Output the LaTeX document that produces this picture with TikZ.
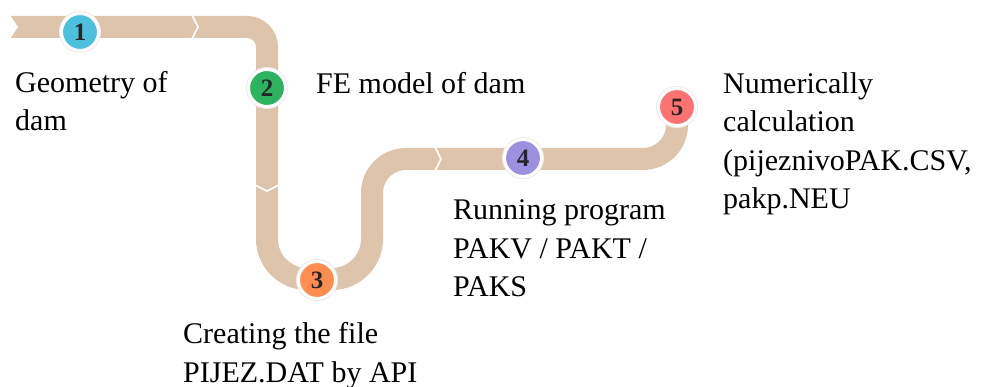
\documentclass[tikz,border=0pt]{standalone}
\usepackage{fontspec}
\setmainfont{Liberation Serif}
\definecolor{road}{HTML}{DEC4AA}
\definecolor{stopa}{HTML}{4DC0DE}
\definecolor{stopb}{HTML}{2DB35F}
\definecolor{stopc}{HTML}{FF8D52}
\definecolor{stopd}{HTML}{9D90E0}
\definecolor{stope}{HTML}{FF7272}
\begin{document}
\begin{tikzpicture}[x=1pt, y=-1pt,
    stop/.style={circle, draw=white, line width=3pt, minimum size=37pt, inner sep=0pt,
      preaction={draw=black!8, line width=5pt},
      font=\fontsize{25}{25}\selectfont\bfseries, text=black!85},
    caption/.style={anchor=base west, align=left, inner sep=0pt,
      font=\fontsize{30}{38.5}\selectfont},
    notch/.style={white, line width=1.6pt}]
    \useasboundingbox (0, 0) rectangle (985, 387);
    \coordinate (start) at (11, 27);
    \coordinate (k1) at (267, 27);
    \coordinate (k2) at (267, 279);
    \coordinate (k3) at (372, 279);
    \coordinate (k4) at (372, 159);
    \coordinate (k5) at (677, 159);
    \coordinate (stop5) at (677, 107);
    \draw[road, line width=22pt] (start) [rounded corners=20pt] -- (k1)
      [rounded corners=40pt] -- (k2) -- (k3) [rounded corners=34pt] -- (k4) -- (k5) -- (stop5);
    \fill[white] (10, 15) -- (18, 27) -- (10, 39) -- cycle;
    \draw[notch] (192, 15) -- (198, 27) -- (192, 39);
    \draw[notch] (255, 185) -- (267, 191) -- (279, 185);
    \draw[notch] (435, 147) -- (441, 159) -- (435, 171);
    \node[stop, fill=stopa] (n1) at (80, 32) {1};
    \node[stop, fill=stopb] (n2) at (267, 88) {2};
    \node[stop, fill=stopc] (n3) at (317, 280) {3};
    \node[stop, fill=stopd] (n4) at (523, 158) {4};
    \node[stop, fill=stope] (n5) at (stop5) {5};
    \node[caption] (t1) at (15, 131) {Geometry of\\dam};
    \node[caption] (t2) at (316, 94) {FE model of dam};
    \node[caption] (t3) at (183, 382) {Creating the file\\PIJEZ.DAT by API};
    \node[caption] (t4) at (453, 297) {Running program\\PAKV / PAKT /\\PAKS};
    \node[caption] (t5) at (723, 209) {Numerically\\calculation\\(pijeznivoPAK.CSV,\\pakp.NEU};
  \end{tikzpicture}
\end{document}
